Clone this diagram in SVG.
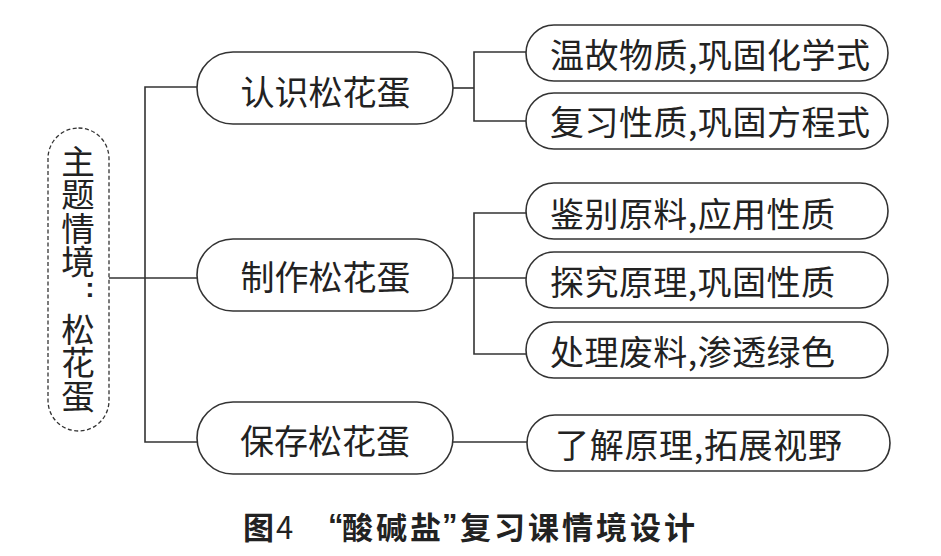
<svg xmlns="http://www.w3.org/2000/svg" width="941" height="556" viewBox="0 0 941 556">
<style>
.bg{fill:#ffffff}
.node{fill:#ffffff;stroke:#333333;stroke-width:1.6}
.dash{fill:#ffffff;stroke:#333333;stroke-width:1.3;stroke-dasharray:4 2.5}
.ln{fill:none;stroke:#333333;stroke-width:1.6}
text{font-family:"Noto Sans CJK SC","Noto Sans CJK TC",sans-serif;fill:#222222;dominant-baseline:central}
.t{font-size:34px}
.m{font-size:34px;text-anchor:middle}
.vt{font-size:33.5px;writing-mode:vertical-rl;text-orientation:upright;dominant-baseline:central}
.colon{font-family:"Liberation Sans",sans-serif;font-size:28px;font-weight:700;text-anchor:middle;dominant-baseline:alphabetic}
.cap{font-size:31px;font-weight:700}
.q{font-family:"Liberation Sans",sans-serif;font-weight:700}
</style>
<rect class="bg" x="0" y="0" width="941" height="556"/>
<g id="connectors">
<polyline class="ln" points="197,87 145,87 145,442 197,442"/>
<line class="ln" x1="109" y1="278" x2="197" y2="278"/>
<line class="ln" x1="453" y1="88" x2="474" y2="88"/>
<polyline class="ln" points="526,52 474,52 474,121 526,121"/>
<line class="ln" x1="453" y1="278" x2="526" y2="278"/>
<polyline class="ln" points="526,213 474,213 474,354 526,354"/>
<line class="ln" x1="453" y1="442" x2="527" y2="442"/>
</g>
<g id="root">
<rect class="dash" x="48" y="128" width="61" height="303" rx="30.5"/>
<text class="vt" x="78" y="144.5">主题情境</text>
<text class="colon" x="90" y="297">:</text>
<text class="vt" x="78" y="312.5">松花蛋</text>
</g>
<g id="n-renshi">
<rect class="node" x="197" y="52" width="256" height="72" rx="36"/>
<text class="m" x="325.5" y="90">认识松花蛋</text>
</g>
<g id="n-zhizuo">
<rect class="node" x="197" y="239" width="256" height="72" rx="36"/>
<text class="m" x="325.5" y="275">制作松花蛋</text>
</g>
<g id="n-baocun">
<rect class="node" x="197" y="402" width="256" height="72" rx="36"/>
<text class="m" x="325" y="439">保存松花蛋</text>
</g>
<g id="r1">
<rect class="node" x="526" y="25" width="362" height="56" rx="28"/>
<text class="t" x="550" y="53.5" textLength="320" lengthAdjust="spacing">温故物质,巩固化学式</text>
</g>
<g id="r2">
<rect class="node" x="526" y="93" width="362" height="56" rx="28"/>
<text class="t" x="550" y="120.5" textLength="320" lengthAdjust="spacing">复习性质,巩固方程式</text>
</g>
<g id="r3">
<rect class="node" x="526" y="183" width="362" height="56" rx="28"/>
<text class="t" x="550" y="212" textLength="285" lengthAdjust="spacing">鉴别原料,应用性质</text>
</g>
<g id="r4">
<rect class="node" x="526" y="252" width="362" height="56" rx="28"/>
<text class="t" x="550" y="280" textLength="285" lengthAdjust="spacing">探究原理,巩固性质</text>
</g>
<g id="r5">
<rect class="node" x="526" y="322" width="362" height="56" rx="28"/>
<text class="t" x="550" y="350" textLength="285" lengthAdjust="spacing">处理废料,渗透绿色</text>
</g>
<g id="r6">
<rect class="node" x="527" y="415" width="363" height="56" rx="28"/>
<text class="t" x="555" y="443" textLength="287" lengthAdjust="spacing">了解原理,拓展视野</text>
</g>
<g id="caption">
<text class="cap" x="243" y="525">图<tspan x="276" style="font-weight:400">4</tspan></text>
<text class="cap" y="525"><tspan class="q" x="328">“</tspan><tspan x="342" textLength="99" lengthAdjust="spacing">酸碱盐</tspan><tspan class="q" x="442">”</tspan><tspan x="460" textLength="235" lengthAdjust="spacing">复习课情境设计</tspan></text>
</g>
</svg>
